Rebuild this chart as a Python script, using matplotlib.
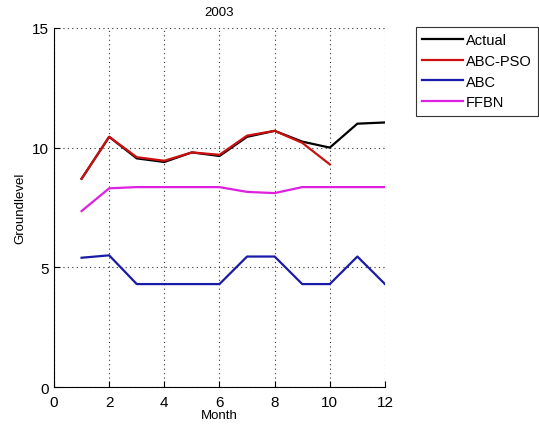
import numpy as np
import matplotlib.pyplot as plt

plt.rcParams['font.family'] = ['Liberation Sans', 'DejaVu Sans']

# Groundlevel per month, 2003
months = np.arange(1, 13)
actual = [8.7, 10.45, 9.55, 9.4, 9.8, 9.65, 10.45, 10.7, 10.25, 10.0, 11.0, 11.05]
abc_pso = [8.7, 10.45, 9.6, 9.45, 9.8, 9.7, 10.5, 10.7, 10.2, 9.3]
abc = [5.4, 5.5, 4.3, 4.3, 4.3, 4.3, 5.45, 5.45, 4.3, 4.3, 5.45, 4.3]
ffbn = [7.35, 8.3, 8.35, 8.35, 8.35, 8.35, 8.15, 8.1, 8.35, 8.35, 8.35, 8.35]

fig = plt.figure(figsize=(5.39, 4.27), dpi=100)
ax = fig.add_axes([0.1002, 0.0913, 0.614, 0.841])

ax.plot(months, actual, color='black', lw=1.6, label='Actual')
ax.plot(months[:len(abc_pso)], abc_pso, color='#cc1010', lw=1.6, label='ABC-PSO')
ax.plot(months, abc, color='#1a1aa8', lw=1.6, label='ABC')
ax.plot(months, ffbn, color='#e020e0', lw=1.6, label='FFBN')

ax.set_xlim(0, 12)
ax.set_ylim(0, 15)
ax.set_xticks(range(0, 13, 2))
ax.set_yticks([0, 5, 10, 15])
ax.grid(True, linestyle=(0, (1, 3)), color='#333333', lw=0.8)
ax.spines['top'].set_visible(False)
ax.spines['right'].set_visible(False)
ax.tick_params(direction='in', labelsize=11, length=4)
ax.tick_params(axis='x', pad=6)

ax.set_xlabel('Month', fontsize=9.5, labelpad=0)
ax.set_ylabel('Groundlevel', fontsize=9.5)
ax.set_title('2003', fontsize=9.5, pad=9)

leg = ax.legend(loc='upper left', bbox_to_anchor=(1.08, 1.015), fontsize=10.5,
                frameon=True, fancybox=False, edgecolor='black',
                handlelength=2.8, handletextpad=0.2, borderpad=0.45, labelspacing=0.45,
                borderaxespad=0.3)
leg.get_frame().set_linewidth(0.8)

plt.savefig('out.png')
